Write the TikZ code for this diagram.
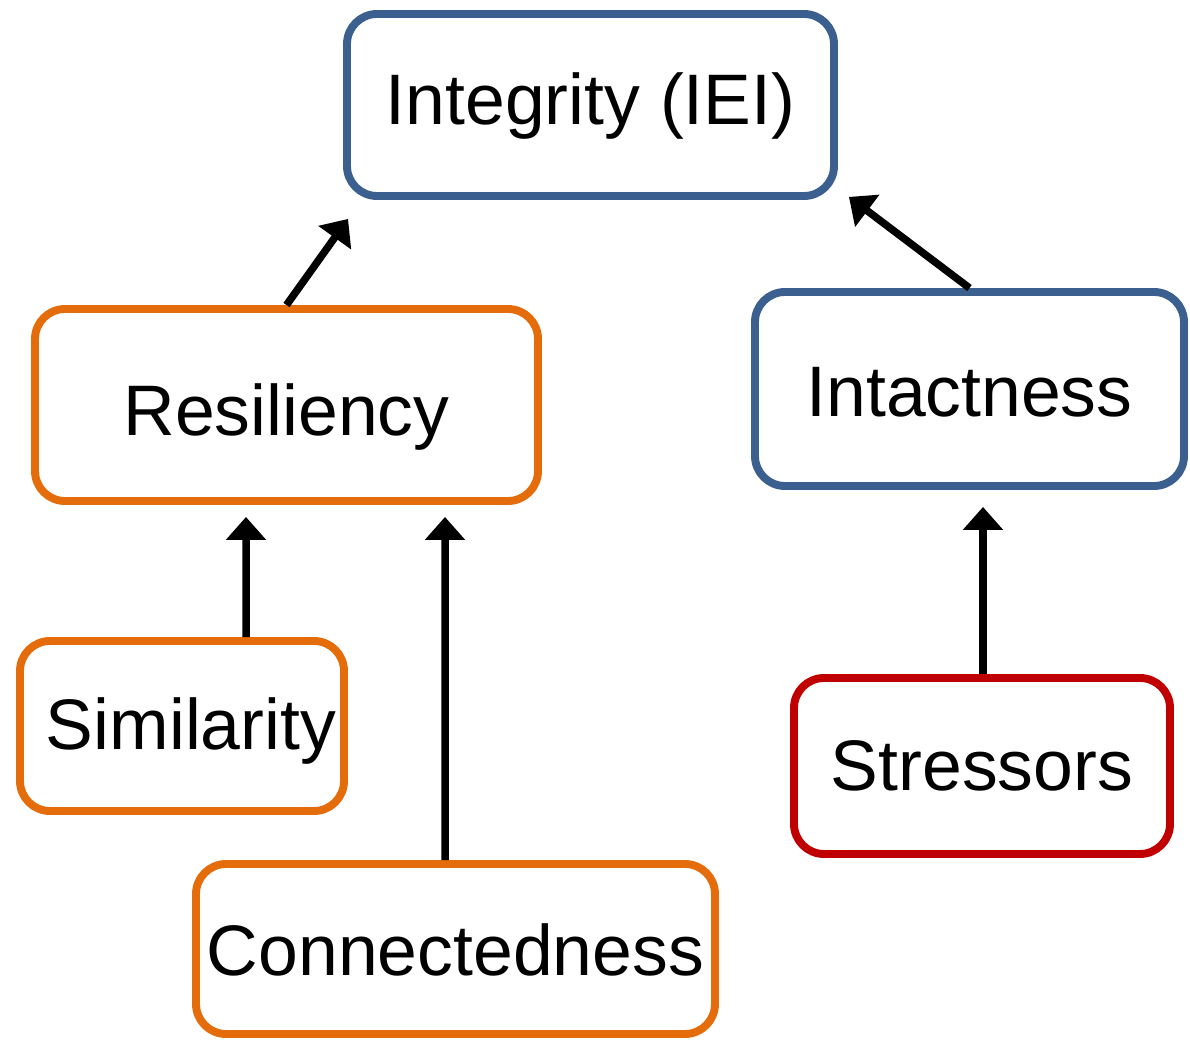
\documentclass[tikz,border=0pt]{standalone}
\usepackage{fontspec}
\setmainfont{Liberation Sans}
\usetikzlibrary{arrows.meta}

\definecolor{ieiblue}{HTML}{3B5F8E}
\definecolor{ieiorange}{HTML}{E46C0A}
\definecolor{ieired}{HTML}{C00000}

\begin{document}
\begin{tikzpicture}[
    box/.style={rectangle, draw=#1, line width=4.5pt, fill=white, rounded corners=0.6cm, align=center, text depth=0pt, font=\fontsize{40.7}{48}\selectfont},
    arr/.style={-{Triangle[length=0.46cm, width=0.78cm]}, line width=0.15cm, black},
]
\useasboundingbox (0,0) rectangle (23.8,20.84);

\node[box=ieiblue, minimum width=9.74cm, minimum height=3.64cm, text height=0.78cm] (iei) at (11.81,18.74) {Integrity (IEI)};
\node[box=ieiorange, minimum width=10.06cm, minimum height=3.84cm, text height=1.22cm] (resil) at (5.73,12.74) {Resiliency};
\node[box=ieiblue, minimum width=8.58cm, minimum height=3.88cm, text height=1.12cm] (intact) at (19.39,13.06) {Intactness};
\node[box=ieiorange, minimum width=6.48cm, minimum height=3.4cm, text height=0.94cm] (simil) at (3.64,6.32) {\hspace*{0.36cm}Similarity};
\node[box=ieiorange, minimum width=10.38cm, minimum height=3.4cm, text height=1.06cm] (conn) at (9.11,1.86) {Connectedness};
\node[box=ieired, minimum width=7.52cm, minimum height=3.52cm, text height=0.98cm] (stress) at (19.64,5.52) {Stressors};

\draw[arr] (resil.north) -- ([xshift=0.1cm, yshift=-0.38cm]iei.south west);
\draw[arr] (intact.north) -- ([xshift=0.22cm, yshift=0.06cm]iei.south east);
\draw[arr] ([xshift=1.28cm]simil.north) -- ([xshift=-0.81cm, yshift=-0.24cm]resil.south);
\draw[arr] ([xshift=-0.21cm]conn.north) -- ([xshift=3.17cm, yshift=-0.24cm]resil.south);
\draw[arr] ([xshift=0.02cm]stress.north) -- ([xshift=0.27cm, yshift=-0.34cm]intact.south);
\end{tikzpicture}
\end{document}
